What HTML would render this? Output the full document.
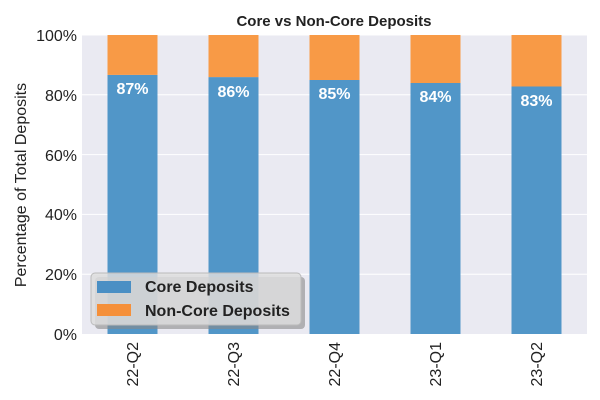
<!DOCTYPE html>
<html><head><style>body{margin:0;background:#fff}svg{display:block}</style></head><body>
<svg width="600" height="400" xmlns="http://www.w3.org/2000/svg" font-family="Liberation Sans, Arial, sans-serif">
<rect x="82" y="35" width="505" height="299" fill="#eaeaf2"/>
<g stroke="#fff" stroke-width="1">
<line x1="82" x2="587" y1="35" y2="35"/><line x1="82" x2="587" y1="94.8" y2="94.8"/><line x1="82" x2="587" y1="154.6" y2="154.6"/><line x1="82" x2="587" y1="214.4" y2="214.4"/><line x1="82" x2="587" y1="274.2" y2="274.2"/>
<line x1="132.5" x2="132.5" y1="35" y2="334"/><line x1="233.5" x2="233.5" y1="35" y2="334"/><line x1="334.5" x2="334.5" y1="35" y2="334"/><line x1="435.5" x2="435.5" y1="35" y2="334"/><line x1="536.5" x2="536.5" y1="35" y2="334"/>
</g>
<g>
<rect x="107.5" y="74.9" width="50" height="259.1" fill="#5196c8"/><rect x="107.5" y="35" width="50" height="39.9" fill="#f89a46"/>
<rect x="208.5" y="77.1" width="50" height="256.9" fill="#5196c8"/><rect x="208.5" y="35" width="50" height="42.1" fill="#f89a46"/>
<rect x="309.5" y="80" width="50" height="254" fill="#5196c8"/><rect x="309.5" y="35" width="50" height="45" fill="#f89a46"/>
<rect x="410.5" y="83" width="50" height="251" fill="#5196c8"/><rect x="410.5" y="35" width="50" height="48" fill="#f89a46"/>
<rect x="511.5" y="86.5" width="50" height="247.5" fill="#5196c8"/><rect x="511.5" y="35" width="50" height="51.5" fill="#f89a46"/>
</g>
<g fill="#fff" font-weight="bold" font-size="16" text-anchor="middle">
<text x="132.5" y="94">87%</text><text x="233.5" y="97">86%</text><text x="334.5" y="99">85%</text><text x="435.5" y="102">84%</text><text x="536.5" y="106">83%</text>
</g>
<text x="334" y="26" text-anchor="middle" font-weight="bold" font-size="15" fill="#222">Core vs Non-Core Deposits</text>
<g font-size="16" fill="#222" text-anchor="end">
<text x="77" y="41">100%</text><text x="77" y="101">80%</text><text x="77" y="161">60%</text><text x="77" y="220">40%</text><text x="77" y="280">20%</text><text x="77" y="340">0%</text>
</g>
<text transform="translate(26,185) rotate(-90)" text-anchor="middle" font-size="16" fill="#222">Percentage of Total Deposits</text>
<g font-size="16" fill="#222" text-anchor="end">
<text transform="translate(138,342) rotate(-90)">22-Q2</text>
<text transform="translate(239,342) rotate(-90)">22-Q3</text>
<text transform="translate(340,342) rotate(-90)">22-Q4</text>
<text transform="translate(441,342) rotate(-90)">23-Q1</text>
<text transform="translate(542,342) rotate(-90)">23-Q2</text>
</g>
<rect x="95" y="277" width="210" height="52" rx="4" fill="#888" opacity="0.6"/>
<rect x="91" y="273" width="210" height="52" rx="4" fill="#ddd" fill-opacity="0.85" stroke="#bbb"/>
<rect x="97" y="281" width="34" height="12" fill="#4a8fc4"/>
<rect x="97" y="304" width="34" height="12" fill="#f5903a"/>
<g font-size="16" font-weight="bold" fill="#222">
<text x="145" y="292">Core Deposits</text><text x="145" y="316">Non-Core Deposits</text>
</g>
</svg>
</body></html>
